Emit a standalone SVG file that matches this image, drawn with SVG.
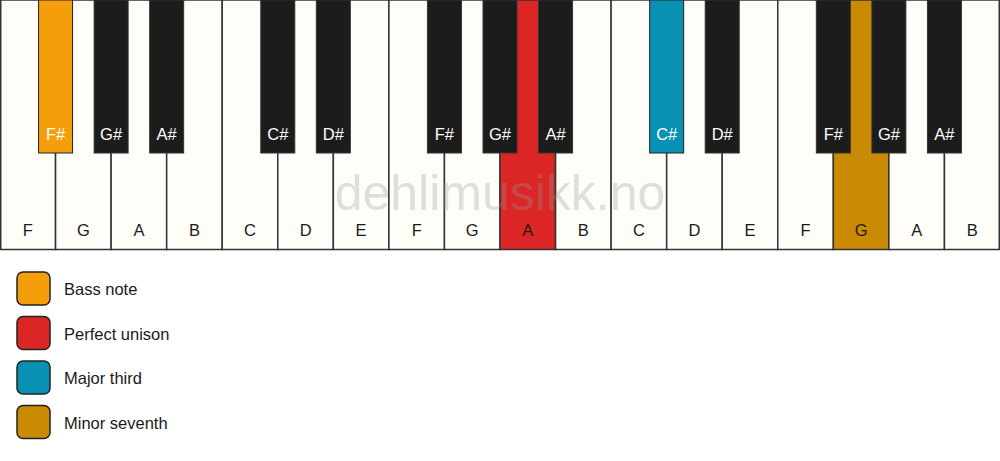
<svg xmlns="http://www.w3.org/2000/svg" width="1000" height="461" viewBox="0 0 1000 461">
<style>
.w{fill:#fffdf8;stroke:#333;stroke-width:1.5}
.b{fill:#1c1c1c;stroke:#333;stroke-width:1}
.wl{font-family:"Liberation Sans",Arial,sans-serif;font-size:16.5px;fill:#1a1a1a;text-anchor:middle}
.bl{font-family:"Liberation Sans",Arial,sans-serif;font-size:16.5px;fill:#ffffff;text-anchor:middle}
.lg{stroke:#222;stroke-width:1.5}
.lt{font-family:"Liberation Sans",Arial,sans-serif;font-size:16.5px;fill:#1a1a1a}
.wm{font-family:"Liberation Sans",Arial,sans-serif;font-size:50px;fill:#999;fill-opacity:0.3;text-anchor:middle}
</style>
<rect width="1000" height="461" fill="#ffffff"/>
<g id="white-keys">
<rect class="w" x="0.75" y="0" width="54.8" height="249.5"/>
<rect class="w" x="55.56" y="0" width="55.56" height="249.5"/>
<rect class="w" x="111.11" y="0" width="55.56" height="249.5"/>
<rect class="w" x="166.67" y="0" width="55.56" height="249.5"/>
<rect class="w" x="222.22" y="0" width="55.56" height="249.5"/>
<rect class="w" x="277.78" y="0" width="55.56" height="249.5"/>
<rect class="w" x="333.33" y="0" width="55.56" height="249.5"/>
<rect class="w" x="388.89" y="0" width="55.56" height="249.5"/>
<rect class="w" x="444.44" y="0" width="55.56" height="249.5"/>
<rect class="w" x="500" y="0" width="55.56" height="249.5" style="fill:#dc2626"/>
<rect class="w" x="555.56" y="0" width="55.56" height="249.5"/>
<rect class="w" x="611.11" y="0" width="55.56" height="249.5"/>
<rect class="w" x="666.67" y="0" width="55.56" height="249.5"/>
<rect class="w" x="722.22" y="0" width="55.56" height="249.5"/>
<rect class="w" x="777.78" y="0" width="55.56" height="249.5"/>
<rect class="w" x="833.33" y="0" width="55.56" height="249.5" style="fill:#ca8a04"/>
<rect class="w" x="888.89" y="0" width="55.56" height="249.5"/>
<rect class="w" x="944.44" y="0" width="54.8" height="249.5"/>
</g>
<g id="white-labels">
<text class="wl" x="27.8" y="236">F</text>
<text class="wl" x="83.3" y="236">G</text>
<text class="wl" x="138.9" y="236">A</text>
<text class="wl" x="194.4" y="236">B</text>
<text class="wl" x="250" y="236">C</text>
<text class="wl" x="305.6" y="236">D</text>
<text class="wl" x="361.1" y="236">E</text>
<text class="wl" x="416.7" y="236">F</text>
<text class="wl" x="472.2" y="236">G</text>
<text class="wl" x="527.8" y="236">A</text>
<text class="wl" x="583.3" y="236">B</text>
<text class="wl" x="638.9" y="236">C</text>
<text class="wl" x="694.4" y="236">D</text>
<text class="wl" x="750" y="236">E</text>
<text class="wl" x="805.6" y="236">F</text>
<text class="wl" x="861.1" y="236">G</text>
<text class="wl" x="916.7" y="236">A</text>
<text class="wl" x="972.2" y="236">B</text>
</g>
<g id="black-keys">
<rect class="b" x="38.56" y="0" width="34" height="153" style="fill:#f59e0b;stroke:#222"/>
<rect class="b" x="94.11" y="0" width="34" height="153"/>
<rect class="b" x="149.67" y="0" width="34" height="153"/>
<rect class="b" x="260.78" y="0" width="34" height="153"/>
<rect class="b" x="316.33" y="0" width="34" height="153"/>
<rect class="b" x="427.44" y="0" width="34" height="153"/>
<rect class="b" x="483" y="0" width="34" height="153"/>
<rect class="b" x="538.56" y="0" width="34" height="153"/>
<rect class="b" x="649.67" y="0" width="34" height="153" style="fill:#0891b2;stroke:#222"/>
<rect class="b" x="705.22" y="0" width="34" height="153"/>
<rect class="b" x="816.33" y="0" width="34" height="153"/>
<rect class="b" x="871.89" y="0" width="34" height="153"/>
<rect class="b" x="927.44" y="0" width="34" height="153"/>
</g>
<g id="black-labels">
<text class="bl" x="55.6" y="140">F#</text>
<text class="bl" x="111.1" y="140">G#</text>
<text class="bl" x="166.7" y="140">A#</text>
<text class="bl" x="277.8" y="140">C#</text>
<text class="bl" x="333.3" y="140">D#</text>
<text class="bl" x="444.4" y="140">F#</text>
<text class="bl" x="500" y="140">G#</text>
<text class="bl" x="555.6" y="140">A#</text>
<text class="bl" x="666.7" y="140">C#</text>
<text class="bl" x="722.2" y="140">D#</text>
<text class="bl" x="833.3" y="140">F#</text>
<text class="bl" x="888.9" y="140">G#</text>
<text class="bl" x="944.4" y="140">A#</text>
</g>
<text class="wm" x="500" y="210">dehlimusikk.no</text>
<g id="legend">
<g id="legend-bass"><rect class="lg" x="17" y="272" width="33" height="33" rx="6" fill="#f59e0b"/><text class="lt" x="64" y="295">Bass note</text></g>
<g id="legend-unison"><rect class="lg" x="17" y="316.5" width="33" height="33" rx="6" fill="#dc2626"/><text class="lt" x="64" y="339.5">Perfect unison</text></g>
<g id="legend-third"><rect class="lg" x="17" y="361" width="33" height="33" rx="6" fill="#0891b2"/><text class="lt" x="64" y="384">Major third</text></g>
<g id="legend-seventh"><rect class="lg" x="17" y="405.5" width="33" height="33" rx="6" fill="#ca8a04"/><text class="lt" x="64" y="428.5">Minor seventh</text></g>
</g>
</svg>
